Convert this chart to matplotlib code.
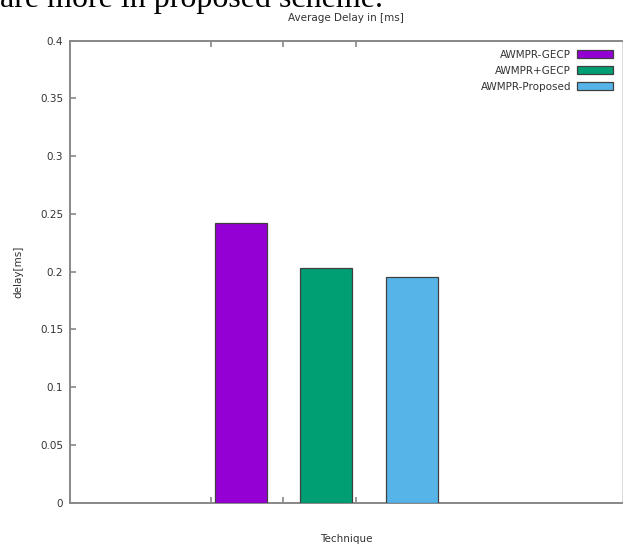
import matplotlib.pyplot as plt
import numpy as np

# values
techniques = ['AWMPR-GECP', 'AWMPR+GECP', 'AWMPR-Proposed']
delay_ms = [0.242, 0.203, 0.195]
bar_colors = ['#9400d3', '#009e73', '#56b4e9']
y_ticks = [0, 0.05, 0.1, 0.15, 0.2, 0.25, 0.3, 0.35, 0.4]
y_ticklabels = ['0', '0.05', '0.1', '0.15', '0.2', '0.25', '0.3', '0.35', '0.4']

W, H = 623, 549
fig = plt.figure(figsize=(W / 100, H / 100), dpi=100)
ax = fig.add_axes([70 / W, 1 - 502.7 / H, (622 - 70) / W, (502.7 - 40.7) / H])

# gnuplot-like histogram layout (x in tick units)
x_pos = np.array([0.417, 1.593, 2.772])
for x, v, c, lab in zip(x_pos, delay_ms, bar_colors, techniques):
    ax.bar(x, v, width=0.715, color=c, edgecolor='#404040', linewidth=0.9,
           label=lab, zorder=3)

ax.set_xlim(-1.935, 5.658)
ax.set_ylim(0, 0.4)
ax.set_xticks([0, 1, 2])
ax.set_xticklabels([])
ax.set_yticks(y_ticks)
ax.set_yticklabels(y_ticklabels)

gray = '#888888'
for s in ax.spines.values():
    s.set_color(gray)
    s.set_linewidth(1.4)
ax.spines['right'].set_color('#dddddd')
ax.spines['right'].set_linewidth(0.8)
ax.tick_params(axis='both', direction='in', color=gray, width=1.2, length=4,
               labelsize=7.5, labelcolor='#333333', top=True, right=False)
ax.tick_params(axis='y', pad=5)

ax.set_title('Average Delay in [ms]', fontsize=7.5, color='#333333', pad=14)
ax.set_ylabel('delay[ms]', fontsize=7.5, color='#333333', labelpad=12)
ax.set_xlabel('Technique', fontsize=7.5, color='#333333', labelpad=19)

leg = ax.legend(loc='upper right', frameon=False, markerfirst=False, fontsize=7.5,
                handlelength=3.4, handleheight=0.8, labelspacing=0.55,
                borderaxespad=0.5, handletextpad=0.6)
for t in leg.get_texts():
    t.set_color('#333333')

# cropped caption line from the page above the figure
fig.text(0.0, 1 - 7 / H, 'are more in proposed scheme.', family='Liberation Serif',
         fontsize=23, color='black', ha='left', va='baseline')

fig.savefig('out.png', dpi=100)
